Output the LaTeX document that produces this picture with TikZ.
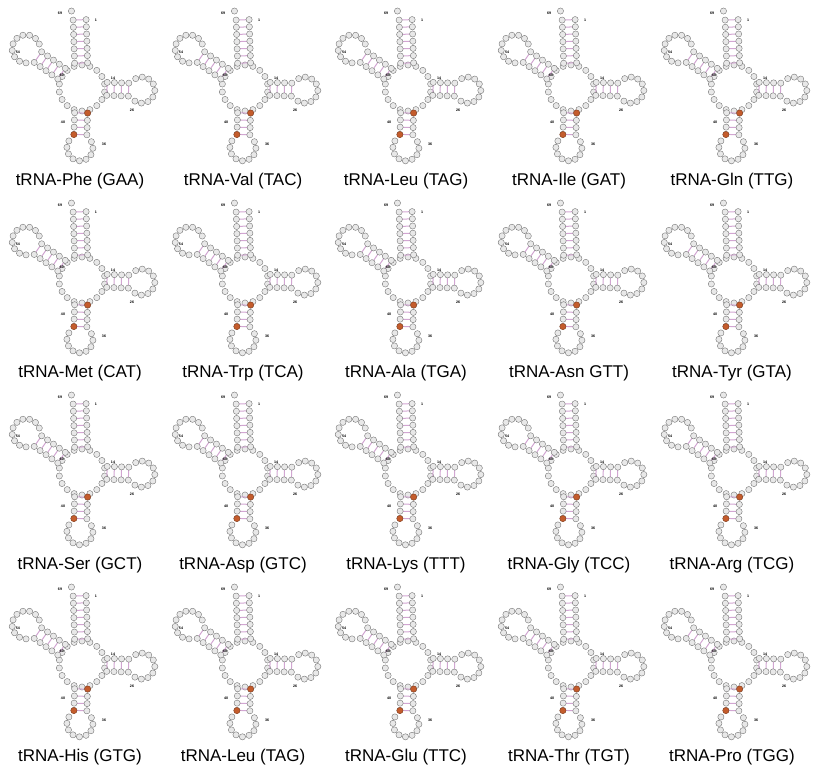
\documentclass[tikz,border=0pt]{standalone}
\usepackage{fontspec}
\setmainfont{Liberation Sans}
\usetikzlibrary{calc}
\definecolor{rustred}{RGB}{196,92,44}
\tikzset{
  bead/.style={circle,draw=black!55,fill=gray!18,line width=0.4pt,minimum size=6.2pt,inner sep=0pt},
  redbead/.style={bead,fill=rustred,draw=rustred!70!black},
  pair/.style={violet!35,line width=1pt},
  num/.style={font=\fontsize{3.6}{3}\selectfont\bfseries,inner sep=0pt},
  title/.style={font=\fontsize{17}{17}\selectfont,inner sep=0pt}
}
% one stem with an optional loop, pointing along local x
\newcommand{\stemloop}[5]{% angle, pairs, loop radius, loop beads, start
  \begin{scope}[rotate=#1]
    \foreach \k in {1,...,#2}{
      \pgfmathsetmacro\sx{#5+(\k-1)*7.2}
      \draw[pair] (\sx,6.5) -- (\sx,-6.5);
      \node[bead] at (\sx,6.5) {};
      \node[bead] at (\sx,-6.5) {};
    }
    \ifnum#4>0
      \pgfmathsetmacro\al{asin(6.5/#3)}
      \pgfmathsetmacro\lx{#5+(#2-1)*7.2+2+sqrt(#3*#3-42.25)}
      \foreach \j in {1,...,#4}{
        \pgfmathsetmacro\ang{180+\al+\j*(360-2*\al)/(#4+1)}
        \node[bead] at ($(\lx,0)+(\ang:#3)$) {};
      }
    \fi
  \end{scope}
}
\newcommand{\trna}[3]{% col, row, label
  \begin{scope}[shift={({82+163*#1},{769-88-192*#2})}]
    \foreach \i in {0,...,17}{
      \pgfmathsetmacro\ca{\i*20+10}
      \node[bead] at ($(0,0)+(\ca:23)$) {};
    }
    \stemloop{92}{7}{0}{0}{25}
    \node[bead] at ($(92:73)+(-8,4)$) {};
    \stemloop{145}{5}{14}{10}{25}
    \stemloop{-2}{4}{13}{9}{25}
    \stemloop{-92}{4}{13}{9}{25}
    \node[redbead] at ($(-92:25)+(6.5,0)$) {};
    \node[redbead] at ($(-92:46.6)+(-6.5,0)$) {};
    \node[num] at (-22,75) {69};
    \node[num] at (14,68) {1};
    \node[num] at (-20,13) {60};
    \node[num] at (-64,36) {54};
    \node[num] at (31,10) {14};
    \node[num] at (50,-22) {26};
    \node[num] at (-19,-34) {40};
    \node[num] at (22,-56) {36};
  \end{scope}
  \node[title] (title-#1-#2) at ({80+163*#1},{769-181-192*#2}) {#3};
}
\begin{document}
\begin{tikzpicture}[x=1pt,y=1pt]
  \useasboundingbox (0,0) rectangle (814,769);
  \trna{0}{0}{tRNA-Phe (GAA)}
  \trna{1}{0}{tRNA-Val (TAC)}
  \trna{2}{0}{tRNA-Leu (TAG)}
  \trna{3}{0}{tRNA-Ile (GAT)}
  \trna{4}{0}{tRNA-Gln (TTG)}
  \trna{0}{1}{tRNA-Met (CAT)}
  \trna{1}{1}{tRNA-Trp (TCA)}
  \trna{2}{1}{tRNA-Ala (TGA)}
  \trna{3}{1}{tRNA-Asn GTT)}
  \trna{4}{1}{tRNA-Tyr (GTA)}
  \trna{0}{2}{tRNA-Ser (GCT)}
  \trna{1}{2}{tRNA-Asp (GTC)}
  \trna{2}{2}{tRNA-Lys (TTT)}
  \trna{3}{2}{tRNA-Gly (TCC)}
  \trna{4}{2}{tRNA-Arg (TCG)}
  \trna{0}{3}{tRNA-His (GTG)}
  \trna{1}{3}{tRNA-Leu (TAG)}
  \trna{2}{3}{tRNA-Glu (TTC)}
  \trna{3}{3}{tRNA-Thr (TGT)}
  \trna{4}{3}{tRNA-Pro (TGG)}
\end{tikzpicture}
\end{document}
